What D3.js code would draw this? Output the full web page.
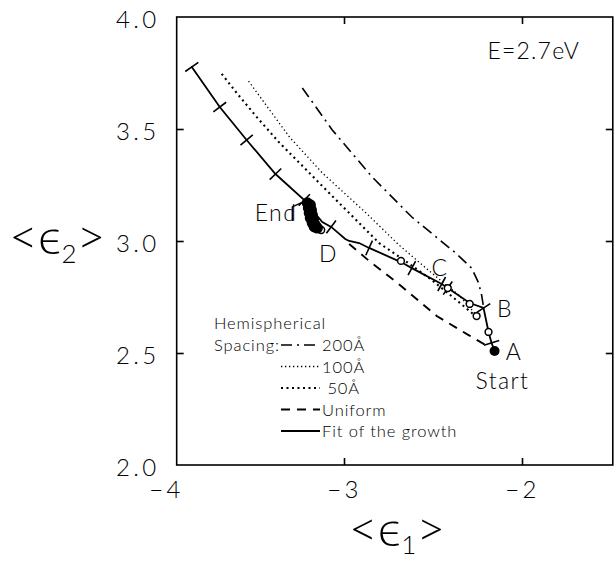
<!DOCTYPE html>
<html>
<head>
<meta charset="utf-8">
<script src="https://cdn.jsdelivr.net/npm/d3@7"></script>
<style>
  html, body { margin: 0; padding: 0; background: #fff; }
  text { font-family: Lato, "DejaVu Sans", sans-serif; font-weight: 300; fill: #000; }
</style>
</head>
<body>
<svg id="chart" width="616" height="561"></svg>
<script>
// ---- data (ε1, ε2) ----
const xTicks = [-4, -3, -2];
const yTicks = [2.0, 2.5, 3.0, 3.5, 4.0];
const xMin = -3.94, xMax = -1.49;

// fitted growth trajectory, from Start (A) to the far end
const fitE1 = [-2.154, -2.171, -2.188, -2.216, -2.294, -2.417, -2.451, -2.619, -2.680, -2.859, -2.915, -2.971, -2.993, -3.072, -3.122, -3.178, -3.223, -3.385, -3.547, -3.698, -3.855];
const fitE2 = [2.509, 2.545, 2.594, 2.701, 2.723, 2.790, 2.808, 2.879, 2.906, 2.969, 2.991, 3.000, 3.009, 3.063, 3.085, 3.138, 3.183, 3.299, 3.451, 3.598, 3.777];

// thickness marks along the fitted trajectory (index into the fit arrays)
const fitMarkIdx = [1, 3, 5, 6, 7, 9, 13, 16, 17, 18, 19, 20];

// hemispherical nucleation models and uniform growth
const h200E1 = [-3.234, -3.066, -2.842, -2.619, -2.372, -2.283, -2.244, -2.227, -2.216];
const h200E2 = [3.683, 3.496, 3.286, 3.107, 2.946, 2.879, 2.813, 2.759, 2.705];

const h100E1 = [-3.536, -3.418, -3.306, -3.122, -2.876, -2.691, -2.507, -2.356, -2.261];
const h100E2 = [3.714, 3.585, 3.464, 3.304, 3.125, 2.982, 2.857, 2.759, 2.674];

const h50E1 = [-3.687, -3.603, -3.491, -3.362, -3.211, -3.083, -2.932, -2.803, -2.663, -2.507, -2.356, -2.261];
const h50E2 = [3.746, 3.661, 3.554, 3.438, 3.317, 3.214, 3.094, 2.991, 2.915, 2.826, 2.728, 2.665];

const uniE1 = [-2.971, -2.859, -2.686, -2.479, -2.300, -2.205];
const uniE2 = [2.987, 2.911, 2.804, 2.665, 2.580, 2.536];

// measured points
const openE1 = [-2.188, -2.255, -2.294, -2.417, -2.680, -3.128];
const openE2 = [2.594, 2.665, 2.719, 2.790, 2.911, 3.049];

const startE1 = [-2.154];
const startE2 = [2.509];

const endE1 = [-3.206, -3.189, -3.200, -3.183, -3.195, -3.178, -3.189, -3.172, -3.178, -3.161, -3.167, -3.150];
const endE2 = [3.170, 3.161, 3.147, 3.138, 3.125, 3.116, 3.103, 3.094, 3.080, 3.071, 3.063, 3.058];

// stage labels
const ptNames = ["A", "B", "C", "D", "Start", "End"];
const ptE1 = [-2.045, -2.096, -2.461, -3.087, -2.110, -3.382];
const ptE2 = [2.507, 2.701, 2.884, 2.946, 2.379, 3.129];

const legendNames = ["200Å", "100Å", " 50Å", "Uniform", "Fit of the growth"];

// ---- layout ----
const svg = d3.select("#chart");
const x = d3.scaleLinear().domain([-4, -2]).range([166, 522]);
const y = d3.scaleLinear().domain([2, 4]).range([465, 17]);

const zip = (a, b) => a.map((v, i) => [v, b[i]]);
const line = d3.line().x(d => x(d[0])).y(d => y(d[1]));

const styles = {
  h200: { w: 1.6, dash: "11,5,2,5" },
  h100: { w: 1.3, dash: "1.3,2.7" },
  h50: { w: 2.1, dash: "2,3.5" },
  uni: { w: 1.9, dash: "9,7" },
  fit: { w: 1.8, dash: null }
};

// frame
svg.append("rect")
  .attr("x", x(xMin)).attr("y", y(4))
  .attr("width", x(xMax) - x(xMin)).attr("height", y(2) - y(4))
  .attr("fill", "none").attr("stroke", "#000").attr("stroke-width", 1.6);

const axB = svg.append("g").attr("transform", `translate(0,${y(2)})`)
  .call(d3.axisBottom(x).tickValues(xTicks).tickSizeInner(-7).tickSizeOuter(0).tickPadding(16).tickFormat(d => "−" + Math.abs(d)));
const axT = svg.append("g").attr("transform", `translate(0,${y(4)})`)
  .call(d3.axisTop(x).tickValues(xTicks.slice(1)).tickSizeInner(-7).tickSizeOuter(0).tickFormat(""));
const axL = svg.append("g").attr("transform", `translate(${x(xMin)},0)`)
  .call(d3.axisLeft(y).tickValues(yTicks).tickSizeInner(-7).tickSizeOuter(0).tickPadding(17).tickFormat(d3.format(".1f")));
const axR = svg.append("g").attr("transform", `translate(${x(xMax)},0)`)
  .call(d3.axisRight(y).tickValues(yTicks.slice(1, -1)).tickSizeInner(-7).tickSizeOuter(0).tickFormat(""));

[axB, axT, axL, axR].forEach(g => {
  g.select(".domain").remove();
  g.selectAll("line").attr("stroke", "#000").attr("stroke-width", 1.6);
  g.selectAll("text").attr("font-size", 24).attr("font-family", null).attr("letter-spacing", 3.4).attr("fill", "#000");
});
axL.selectAll("text").attr("dy", "0.42em");
axL.selectAll(".tick").filter(d => d === 2 || d === 4).select("line").remove();
axB.selectAll(".tick").filter(d => d === -4).select("line").remove();

// model curves
function drawCurve(e1, e2, st) {
  svg.append("path").datum(zip(e1, e2)).attr("d", line)
    .attr("fill", "none").attr("stroke", "#000")
    .attr("stroke-width", st.w)
    .attr("stroke-dasharray", st.dash)
    .attr("stroke-linecap", st.dash ? "butt" : "round");
}
drawCurve(h200E1, h200E2, styles.h200);
drawCurve(h100E1, h100E2, styles.h100);
drawCurve(h50E1, h50E2, styles.h50);
drawCurve(uniE1, uniE2, styles.uni);
drawCurve(fitE1, fitE2, styles.fit);

// thickness marks across the fitted trajectory
const fitPts = zip(fitE1, fitE2);
fitMarkIdx.forEach(i => {
  const a = fitPts[Math.max(0, i - 1)], b = fitPts[Math.min(fitPts.length - 1, i + 1)];
  const dx = x(b[0]) - x(a[0]), dy = y(b[1]) - y(a[1]);
  const len = Math.hypot(dx, dy);
  const nx = -dy / len, ny = dx / len;
  const cx = x(fitPts[i][0]), cy = y(fitPts[i][1]);
  const h = 8;
  svg.append("line")
    .attr("x1", cx - nx * h).attr("y1", cy - ny * h)
    .attr("x2", cx + nx * h).attr("y2", cy + ny * h)
    .attr("stroke", "#000").attr("stroke-width", 1.6);
});

// measured points
svg.selectAll(".open").data(zip(openE1, openE2)).enter().append("circle")
  .attr("cx", d => x(d[0])).attr("cy", d => y(d[1])).attr("r", 3.4)
  .attr("fill", "#fff").attr("stroke", "#000").attr("stroke-width", 1.5);
svg.selectAll(".endp").data(zip(endE1, endE2)).enter().append("circle")
  .attr("cx", d => x(d[0])).attr("cy", d => y(d[1])).attr("r", 5.6)
  .attr("fill", "#000");
svg.selectAll(".startp").data(zip(startE1, startE2)).enter().append("circle")
  .attr("cx", d => x(d[0])).attr("cy", d => y(d[1])).attr("r", 5)
  .attr("fill", "#000");

// stage labels
svg.selectAll(".plab").data(ptNames).enter().append("text")
  .attr("x", (d, i) => x(ptE1[i])).attr("y", (d, i) => y(ptE2[i]))
  .attr("font-size", 23).attr("letter-spacing", 1.4)
  .attr("text-anchor", "middle").attr("dominant-baseline", "central")
  .text(d => d);
svg.append("path")
  .attr("d", `M${x(endE1[0]) - 15},${y(endE2[0]) + 18} V${y(endE2[0]) + 4} L${x(endE1[0]) - 2},${y(endE2[0]) - 2}`)
  .attr("fill", "none").attr("stroke", "#000").attr("stroke-width", 1.4);

// energy annotation
svg.append("text").attr("x", 580).attr("y", 50)
  .attr("font-size", 23).attr("letter-spacing", 1.2).attr("text-anchor", "end").attr("dominant-baseline", "central")
  .text("E=2.7eV");

// legend
const lg = svg.append("g");
const lgFont = 16.5, lgSpace = 0.9;
lg.append("text").attr("x", 214).attr("y", 323).attr("font-size", lgFont).attr("letter-spacing", lgSpace).attr("dominant-baseline", "central").text("Hemispherical");
lg.append("text").attr("x", 214).attr("y", 345).attr("font-size", lgFont).attr("letter-spacing", lgSpace).attr("dominant-baseline", "central").text("Spacing:");
const lgStyles = [styles.h200, styles.h100, styles.h50, styles.uni, styles.fit];
legendNames.forEach((n, i) => {
  const yy = 345 + i * 21.5;
  lg.append("line").attr("x1", 281).attr("x2", 320).attr("y1", yy).attr("y2", yy)
    .attr("stroke", "#000").attr("stroke-width", lgStyles[i].w)
    .attr("stroke-dasharray", lgStyles[i].dash);
  lg.append("text").attr("x", 322).attr("y", yy).attr("font-size", lgFont).attr("letter-spacing", lgSpace)
    .attr("dominant-baseline", "central").attr("xml:space", "preserve").text(n);
});

// axis titles
const yTitle = svg.append("text").attr("x", 9).attr("y", 254).attr("font-size", 50);
yTitle.append("tspan").text("<");
yTitle.append("tspan").text("ϵ");
yTitle.append("tspan").attr("font-size", 26).attr("dy", 9).text("2");
yTitle.append("tspan").attr("dy", -9).text(">");

const xTitle = svg.append("text").attr("x", 397).attr("y", 546).attr("text-anchor", "middle").attr("font-size", 50);
xTitle.append("tspan").text("<");
xTitle.append("tspan").text("ϵ");
xTitle.append("tspan").attr("font-size", 26).attr("dy", 8).text("1");
xTitle.append("tspan").attr("dy", -8).text(">");
</script>
</body>
</html>
